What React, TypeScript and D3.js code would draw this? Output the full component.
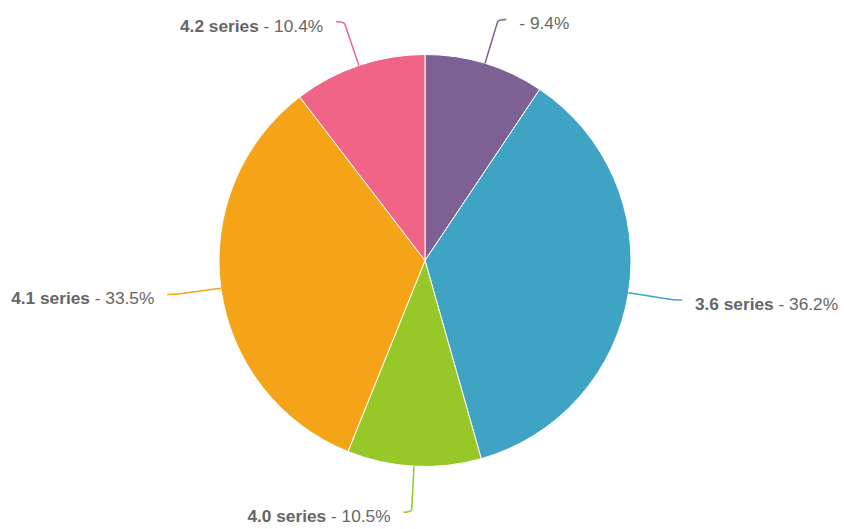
import React from "react";
import * as d3 from "d3";

const categories = ["", "3.6 series", "4.0 series", "4.1 series", "4.2 series"];
const values = [9.4, 36.2, 10.5, 33.5, 10.4];
const colors = ["#7D6194", "#3FA4C3", "#96C828", "#F5A418", "#F06488"];

const W = 844;
const H = 529;
const cx = 425;
const cy = 260.5;
const R = 206;

export default function App() {
  const pie = d3.pie<number>().sort(null).value((d) => d)(values);
  const arc = d3.arc<d3.PieArcDatum<number>>().innerRadius(0).outerRadius(R);
  const total = d3.sum(values);

  return (
    <svg width={W} height={H} style={{ position: "absolute", left: 0, top: 0 }}>
      <g transform={`translate(${cx},${cy})`}>
        {pie.map((p, i) => (
          <path key={i} d={arc(p) || ""} fill={colors[i]} stroke="#fff" strokeWidth={1} />
        ))}
        {pie.map((p, i) => {
          const a = (p.startAngle + p.endAngle) / 2;
          const s = Math.sin(a);
          const c = -Math.cos(a);
          const x0 = R * s;
          const y0 = R * c;
          const kd = R + 46;
          const kx = kd * s;
          const ky = kd * c;
          const dir = s >= 0 ? 1 : -1;
          const ex = kx + dir * 8;
          const path = `M${x0},${y0} L${kx - (kx - x0) * 0.06},${ky - (ky - y0) * 0.06} Q${kx},${ky} ${ex},${ky}`;
          const tx = ex + dir * 13;
          const pct = ((values[i] / total) * 100).toFixed(1);
          return (
            <g key={"l" + i}>
              <path d={path} fill="none" stroke={colors[i]} strokeWidth={1.5} />
              <text
                x={tx}
                y={ky + 4}
                dy="0.35em"
                textAnchor={dir > 0 ? "start" : "end"}
                fontFamily="'Liberation Sans', Arial, sans-serif"
                fontSize={17.3}
                fill="#666"
              >
                {categories[i] ? (
                  <tspan fontWeight="bold">{categories[i]}</tspan>
                ) : null}
                <tspan>{(categories[i] ? " " : "") + "- " + pct + "%"}</tspan>
              </text>
            </g>
          );
        })}
      </g>
    </svg>
  );
}
